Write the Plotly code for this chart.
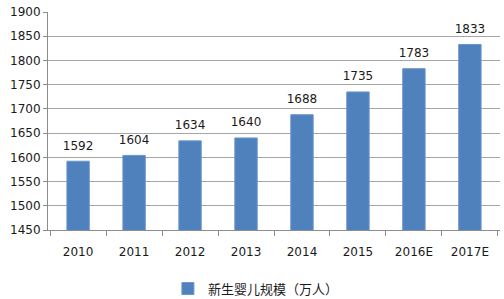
import plotly.graph_objects as go

years = ["2010", "2011", "2012", "2013", "2014", "2015", "2016E", "2017E"]
births = [1592, 1604, 1634, 1640, 1688, 1735, 1783, 1833]
series_name = "新生婴儿规模（万人）"
y_ticks = [1450, 1500, 1550, 1600, 1650, 1700, 1750, 1800, 1850, 1900]

font_family = "DejaVu Sans, Verdana, Noto Sans CJK SC, sans-serif"

fig = go.Figure()
fig.add_trace(go.Bar(
    x=years, y=births, name=series_name,
    marker=dict(color="#4F81BD", line=dict(color="#6A95CC", width=1)),
    width=0.4,
))
fig.add_trace(go.Scatter(
    x=years, y=births, mode="markers+text", text=[str(v) for v in births],
    textposition="top center", showlegend=False, cliponaxis=False,
    marker=dict(size=12, color="rgba(0,0,0,0)"), hoverinfo="skip",
    textfont=dict(size=12, color="#1a1a1a", family=font_family),
))

fig.update_layout(
    width=504, height=299,
    margin=dict(l=48, r=4, t=12, b=69, autoexpand=False),
    paper_bgcolor="white", plot_bgcolor="white",
    font=dict(family=font_family, size=12, color="#1a1a1a"),
    showlegend=True,
    legend=dict(orientation="h", x=0.46, xanchor="center", y=-0.2, yanchor="top",
                font=dict(size=13, family=font_family, color="#1a1a1a")),
)
fig.update_xaxes(
    type="category", showline=True, linecolor="#8c8c8c", linewidth=1,
    ticks="outside", tickson="boundaries", ticklen=5, tickcolor="#8c8c8c",
    showgrid=False, tickfont=dict(size=12), ticklabelstandoff=11,
)
fig.update_yaxes(
    range=[1450, 1900], tickvals=y_ticks, showline=True, linecolor="#8c8c8c",
    linewidth=1, ticks="outside", ticklen=4, tickcolor="#8c8c8c",
    showgrid=True, gridcolor="#a6a6a6", gridwidth=1, zeroline=False,
    tickfont=dict(size=12),
)

fig.write_html("out.html")
